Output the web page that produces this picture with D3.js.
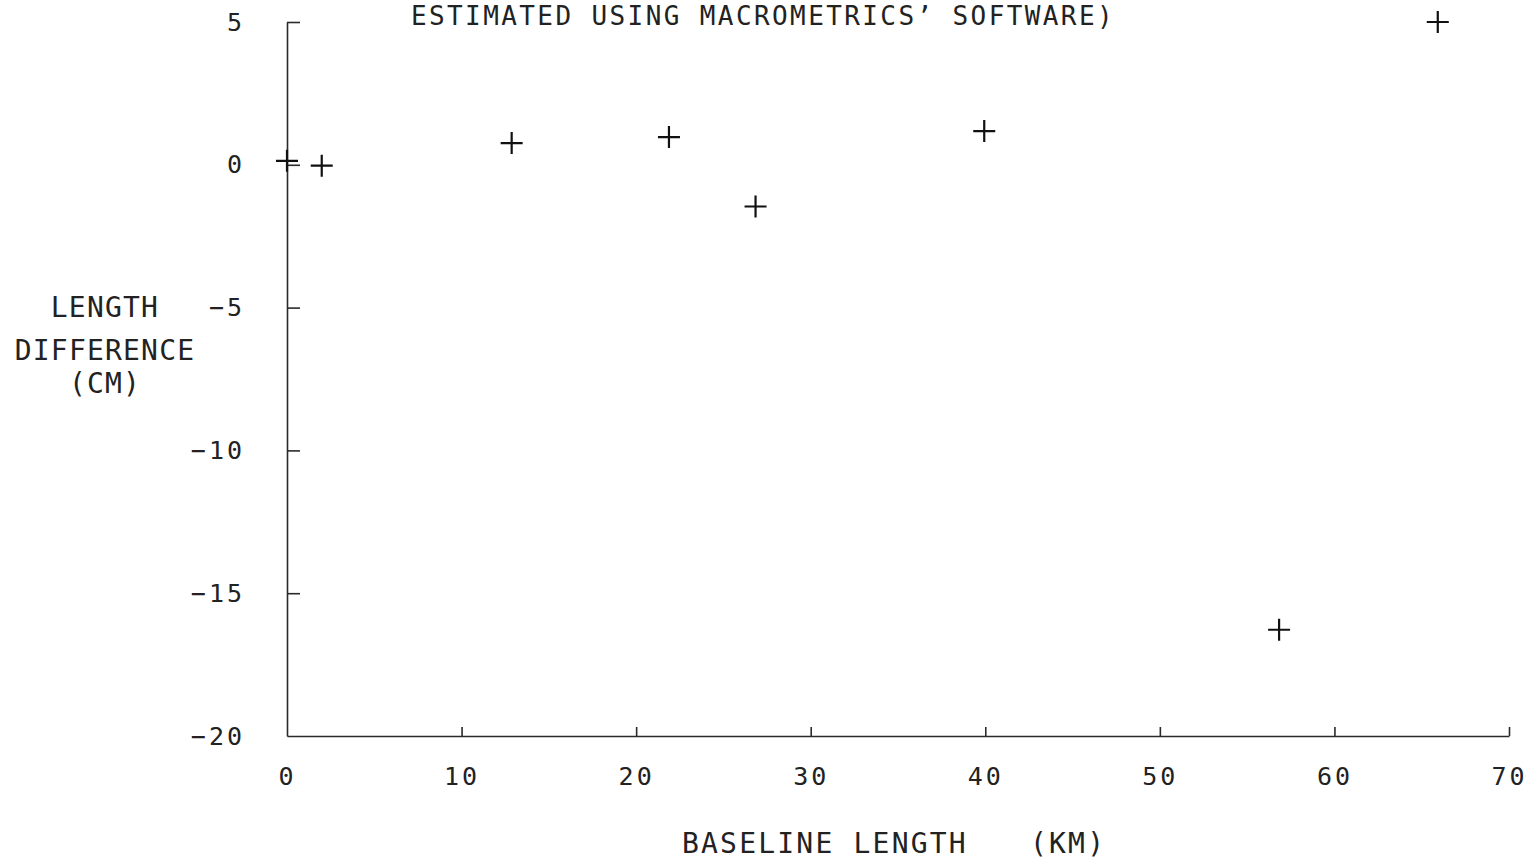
<!DOCTYPE html>
<html>
<head>
<meta charset="utf-8">
<script src="https://cdn.jsdelivr.net/npm/d3@7"></script>
<style>
  html, body { margin: 0; padding: 0; background: #fff; }
  svg { display: block; }
  text { font-family: "DejaVu Sans Mono", monospace; fill: #222; }
</style>
</head>
<body>
<svg id="chart" width="1538" height="859"></svg>
<script>
// Baseline length (km) and length difference (cm) for each baseline
const baselineKm = [0.0, 1.99, 12.87, 21.88, 26.84, 39.94, 56.83, 65.92];
const lengthDiffCm = [0.14, -0.03, 0.76, 0.97, -1.46, 1.18, -16.28, 5.0];

const xTicks = [0, 10, 20, 30, 40, 50, 60, 70];
const yTicks = [5, 0, -5, -10, -15, -20];

const titleText = "ESTIMATED USING MACROMETRICS\u2019 SOFTWARE)";
const xTitleParts = ["BASELINE LENGTH", "(KM)"];
const yTitleLines = ["LENGTH", "DIFFERENCE", "(CM)"];

const svg = d3.select("#chart");

const x = d3.scaleLinear().domain([0, 70]).range([287, 1509]);
const y = d3.scaleLinear().domain([-20, 5]).range([736, 22]);

const axisColor = "#2a2a2a";

// Y axis: ticks point inward (to the right)
const yAxis = svg.append("g")
  .attr("transform", `translate(${x(0)},0)`)
  .call(d3.axisLeft(y).tickValues(yTicks)
    .tickSizeInner(-13).tickSizeOuter(0).tickPadding(42)
    .tickFormat(d => d < 0 ? "\u2212" + Math.abs(d) : String(d)));

// X axis: ticks point upward into the plot
const xAxis = svg.append("g")
  .attr("transform", `translate(0,${y(-20)})`)
  .call(d3.axisBottom(x).tickValues(xTicks)
    .tickSizeInner(-9).tickSizeOuter(0).tickPadding(31)
    .tickFormat(d3.format("d")));

[xAxis, yAxis].forEach(g => {
  g.select(".domain").attr("stroke", axisColor).attr("stroke-width", 1.6);
  g.selectAll(".tick line").attr("stroke", axisColor).attr("stroke-width", 1.6);
  g.selectAll(".tick text")
    .attr("font-family", "DejaVu Sans Mono, monospace")
    .attr("font-size", 25)
    .attr("letter-spacing", 3)
    .attr("fill", "#222");
});
// drop the corner tick marks that sit on the other axis
yAxis.selectAll(".tick").filter(d => d === -20).select("line").remove();
xAxis.selectAll(".tick").filter(d => d === 0).select("line").remove();

// Data marks: plus signs
const arm = 11;
svg.append("g")
  .selectAll("path")
  .data(baselineKm.map((k, i) => [k, lengthDiffCm[i]]))
  .join("path")
  .attr("transform", d => `translate(${x(d[0])},${y(d[1])})`)
  .attr("d", `M${-arm},0H${arm}M0,${-arm}V${arm}`)
  .attr("stroke", "#111")
  .attr("stroke-width", 2.2)
  .attr("fill", "none");

// Title line along the top edge of the page
svg.append("text")
  .attr("x", 763).attr("y", 25)
  .attr("text-anchor", "middle")
  .attr("font-size", 26)
  .attr("letter-spacing", 2.4)
  .text(titleText);

// X axis title
svg.append("text")
  .attr("x", 682).attr("y", 853)
  .attr("font-size", 28).attr("letter-spacing", 2.2)
  .text(xTitleParts[0]);
svg.append("text")
  .attr("x", 1030).attr("y", 853)
  .attr("font-size", 28).attr("letter-spacing", 2.2)
  .text(xTitleParts[1]);

// Y axis title, three stacked lines
const yTitleBaselines = [317, 360, 393];
svg.append("g")
  .selectAll("text")
  .data(yTitleLines)
  .join("text")
  .attr("x", 105)
  .attr("y", (d, i) => yTitleBaselines[i])
  .attr("text-anchor", "middle")
  .attr("font-size", 28)
  .attr("letter-spacing", 1.2)
  .text(d => d);
</script>
</body>
</html>
